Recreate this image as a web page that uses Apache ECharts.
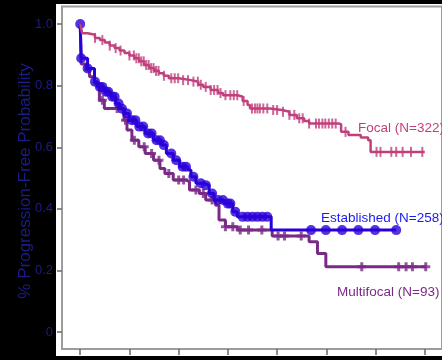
<!DOCTYPE html>
<html>
<head>
<meta charset="utf-8">
<script src="https://cdn.jsdelivr.net/npm/echarts@6/dist/echarts.min.js"></script>
<style>
  html, body { margin: 0; padding: 0; background: #000; }
  #chart { width: 442px; height: 360px; }
</style>
</head>
<body>
<div id="chart"></div>
<script>
// Kaplan-Meier steps: time (years) and survival after the event
const focalTime = [0, 0.04, 0.15, 0.3, 0.4, 0.5, 0.6, 0.7, 0.8, 0.9, 1.0, 1.1, 1.2, 1.3, 1.4, 1.5, 1.6, 1.7, 1.8, 2.0, 2.25, 2.4, 2.5, 2.65, 2.8, 2.9, 3.2, 3.3, 3.4, 3.45, 3.85, 4.1, 4.25, 4.4, 4.55, 4.65, 5.25, 5.3, 5.45, 5.7, 5.85, 5.9, 7.0];
const focalSurv = [1.0, 0.97, 0.965, 0.955, 0.948, 0.94, 0.93, 0.922, 0.914, 0.906, 0.898, 0.889, 0.879, 0.867, 0.857, 0.848, 0.840, 0.832, 0.824, 0.818, 0.813, 0.803, 0.796, 0.786, 0.776, 0.769, 0.764, 0.75, 0.737, 0.726, 0.721, 0.715, 0.705, 0.694, 0.685, 0.677, 0.675, 0.650, 0.640, 0.632, 0.623, 0.585, 0.585];
const focalCensor = [0.3, 0.45, 0.6, 0.72, 0.82, 1.0, 1.09, 1.14, 1.19, 1.24, 1.29, 1.34, 1.39, 1.44, 1.49, 1.54, 1.59, 1.7, 1.85, 1.92, 1.99, 2.09, 2.19, 2.3, 2.39, 2.45, 2.55, 2.65, 2.72, 2.79, 2.85, 2.95, 3.05, 3.12, 3.19, 3.32, 3.49, 3.55, 3.6, 3.65, 3.72, 3.8, 3.92, 4.0, 4.12, 4.25, 4.35, 4.45, 4.52, 4.65, 4.79, 4.85, 4.92, 4.98, 5.05, 5.12, 5.19, 5.39, 6.02, 6.1, 6.32, 6.42, 6.55, 6.72, 6.95];

const estTime = [0, 0.02, 0.15, 0.29, 0.35, 0.49, 0.62, 0.72, 0.8, 0.89, 0.99, 1.15, 1.32, 1.49, 1.65, 1.75, 1.89, 2.02, 2.19, 2.25, 2.35, 2.5, 2.62, 2.72, 2.92, 3.1, 3.19, 3.88, 6.42];
const estSurv = [1.0, 0.889, 0.856, 0.813, 0.796, 0.780, 0.764, 0.742, 0.725, 0.710, 0.688, 0.667, 0.645, 0.623, 0.607, 0.580, 0.558, 0.537, 0.526, 0.504, 0.483, 0.477, 0.450, 0.429, 0.417, 0.391, 0.374, 0.331, 0.331];
const estCensor = [0, 0.02, 0.15, 0.3, 0.4, 0.45, 0.52, 0.57, 0.65, 0.7, 0.78, 0.85, 0.95, 1.05, 1.12, 1.2, 1.28, 1.38, 1.45, 1.55, 1.62, 1.7, 1.85, 1.95, 2.08, 2.15, 2.3, 2.45, 2.55, 2.68, 2.8, 2.9, 3.0, 3.05, 3.15, 3.3, 3.4, 3.5, 3.6, 3.7, 3.8, 4.69, 4.99, 5.32, 5.65, 5.99, 6.42];

const multiTime = [0, 0.02, 0.12, 0.19, 0.29, 0.39, 0.49, 0.89, 0.95, 1.05, 1.19, 1.32, 1.49, 1.62, 1.72, 1.89, 2.15, 2.22, 2.42, 2.55, 2.75, 2.82, 2.95, 3.2, 3.9, 4.65, 4.82, 4.99, 7.04];
const multiSurv = [1.0, 0.87, 0.851, 0.829, 0.808, 0.753, 0.726, 0.688, 0.656, 0.623, 0.602, 0.580, 0.558, 0.531, 0.515, 0.494, 0.488, 0.461, 0.450, 0.429, 0.412, 0.364, 0.342, 0.331, 0.312, 0.293, 0.255, 0.212, 0.212];
const multiCensor = [0.45, 0.75, 0.92, 1.1, 1.3, 1.45, 1.6, 1.8, 2.0, 2.1, 2.35, 2.5, 2.68, 2.95, 3.1, 3.25, 3.42, 3.69, 4.02, 4.15, 4.49, 5.72, 6.47, 6.62, 6.75, 7.02];

const yTicks = [0, 0.2, 0.4, 0.6, 0.8, 1.0];
const xTicks = [0, 1, 2, 3, 4, 5, 6, 7];

const COL_FOCAL = '#c0407c';
const COL_EST = '#2a00d8';
const COL_MULTI = '#7a2a86';
const FONT = "'Liberation Sans', Arial, sans-serif";

function steps(t, s) {
  return t.map((v, i) => [v, s[i]]);
}
// survival value at time x (step function)
function survAt(t, s, x) {
  let v = s[0];
  for (let i = 0; i < t.length; i++) {
    if (t[i] <= x) v = s[i];
  }
  return v;
}
function censors(c, t, s) {
  return c.map(x => [x, survAt(t, s, x)]);
}

const chart = echarts.init(document.getElementById('chart'));

chart.setOption({
  backgroundColor: '#000',
  animation: false,
  grid: {
    left: 62, right: -6, top: 6.5, bottom: 11,
    show: true, borderColor: '#9c9c9c', borderWidth: 2, backgroundColor: 'transparent'
  },
  xAxis: {
    type: 'value', min: -0.37, max: 7.35,
    axisLine: { show: false, onZero: false },
    splitLine: { show: false },
    axisTick: { show: true, length: 6, lineStyle: { color: '#6a6a6a', width: 1.5 }, customValues: xTicks },
    axisLabel: { show: false }
  },
  yAxis: {
    type: 'value', min: -0.055, max: 1.057,
    axisLine: { show: false, onZero: false },
    splitLine: { show: false },
    axisTick: { show: true, length: 5, lineStyle: { color: '#6a6a6a', width: 1.5 }, customValues: yTicks },
    axisLabel: {
      customValues: yTicks, margin: 9, color: '#1c1c88', fontSize: 13, fontFamily: FONT,
      formatter: v => (v === 0 ? '0' : v.toFixed(1))
    }
  },
  graphic: [
    { type: 'rect', z: -100, shape: { x: 56, y: 4, width: 386, height: 352 }, style: { fill: '#fff' }, silent: true },
    {
      type: 'text', x: 25, y: 181, rotation: Math.PI / 2,
      style: { text: '% Progression-Free Probability', fill: '#1c1c88', font: '17px ' + FONT, align: 'center', verticalAlign: 'middle' }
    },
    { type: 'text', x: 358, y: 128, style: { text: 'Focal (N=322)', fill: COL_FOCAL, font: '13.5px ' + FONT, align: 'left', verticalAlign: 'middle' } },
    { type: 'text', x: 321, y: 218, style: { text: 'Established (N=258)', fill: '#1a1af0', font: '13.5px ' + FONT, align: 'left', verticalAlign: 'middle' } },
    { type: 'text', x: 337, y: 292, style: { text: 'Multifocal (N=93)', fill: COL_MULTI, font: '13.5px ' + FONT, align: 'left', verticalAlign: 'middle' } }
  ],
  series: [
    {
      name: 'Multifocal', type: 'line', step: 'end', showSymbol: false,
      data: steps(multiTime, multiSurv),
      lineStyle: { color: COL_MULTI, width: 3 }, z: 2
    },
    {
      name: 'Multifocal censored', type: 'scatter',
      data: censors(multiCensor, multiTime, multiSurv),
      symbol: 'path://M2,0H4V2H6V4H4V6H2V4H0V2H2Z', symbolSize: 9,
      itemStyle: { color: COL_MULTI }, z: 2
    },
    {
      name: 'Established', type: 'line', step: 'end', showSymbol: false,
      data: steps(estTime, estSurv),
      lineStyle: { color: COL_EST, width: 3 }, z: 3
    },
    {
      name: 'Established censored', type: 'scatter',
      data: censors(estCensor, estTime, estSurv),
      symbol: 'circle', symbolSize: 10,
      itemStyle: { color: COL_EST }, z: 3
    },
    {
      name: 'Focal', type: 'line', step: 'end', showSymbol: false,
      data: steps(focalTime, focalSurv),
      lineStyle: { color: COL_FOCAL, width: 2.5 }, z: 4
    },
    {
      name: 'Focal censored', type: 'scatter',
      data: censors(focalCensor, focalTime, focalSurv),
      symbol: 'rect', symbolSize: [2, 10],
      itemStyle: { color: COL_FOCAL }, z: 4
    }
  ]
});
</script>
</body>
</html>
